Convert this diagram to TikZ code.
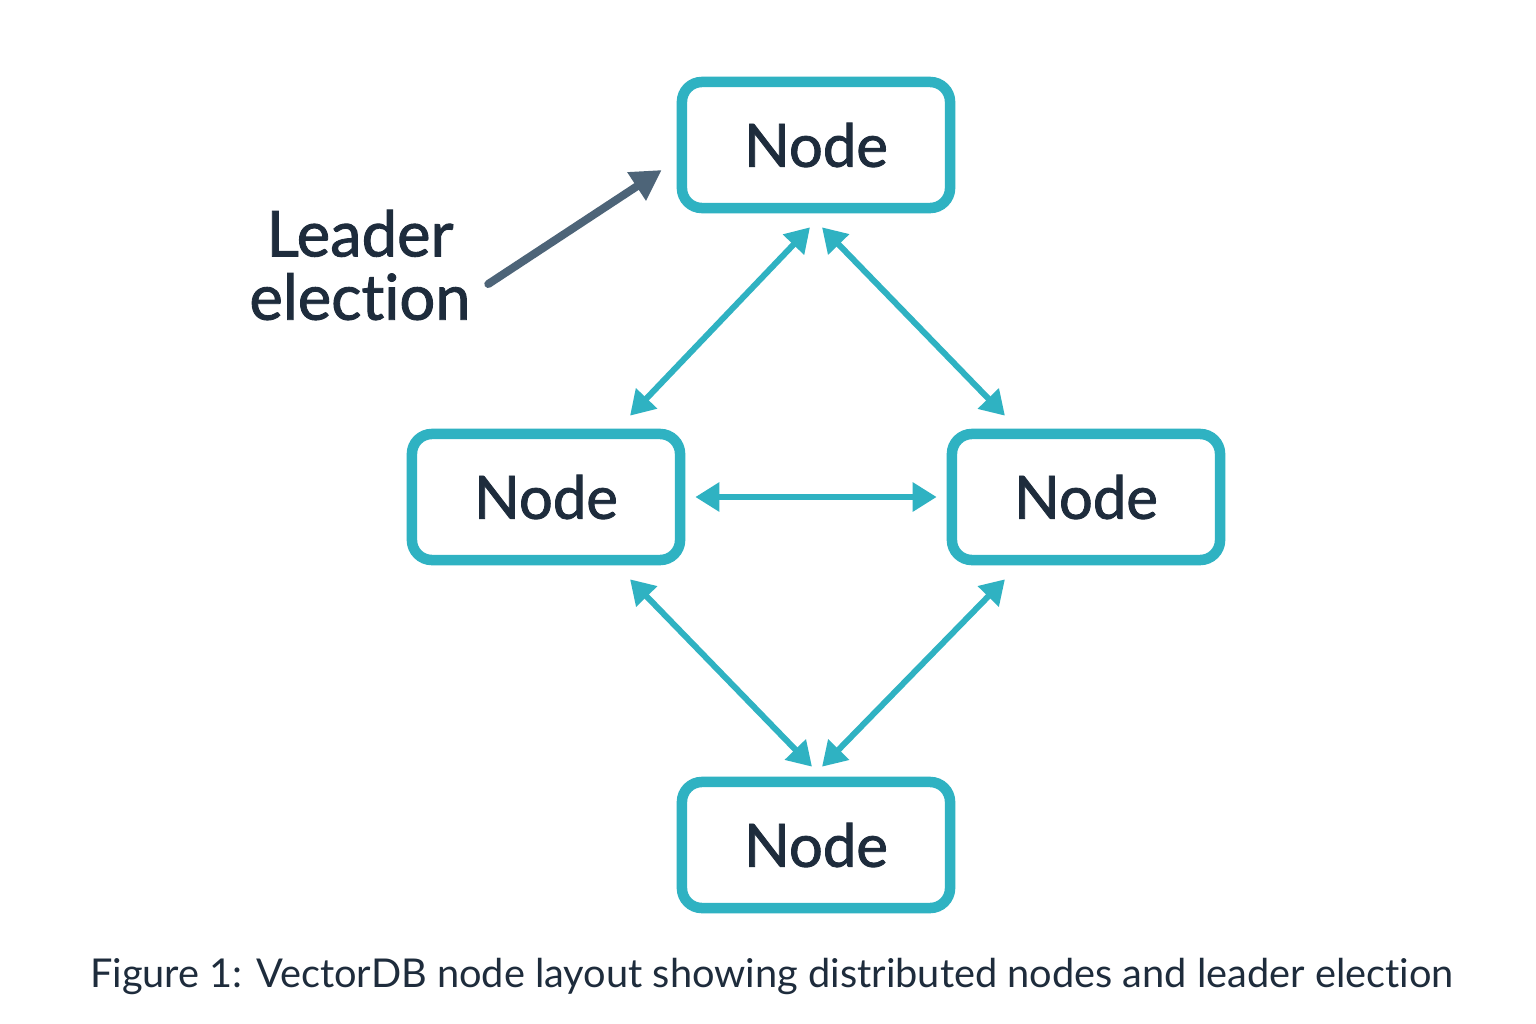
\documentclass[tikz,border=0pt]{standalone}
\usepackage{fontspec}
\setmainfont{Lato}[Ligatures=NoCommon]
\newfontfamily\medfont{Lato}[Ligatures=NoCommon, FakeBold=1.4]
\definecolor{nodeteal}{RGB}{47, 178, 194}
\definecolor{inkdark}{RGB}{30, 44, 60}
\definecolor{slate}{RGB}{77, 100, 120}
\usetikzlibrary{arrows.meta, positioning}

\tikzset{
  nodebox/.style={draw=nodeteal, line width=0.105cm, rounded corners=0.2cm, fill=white,
    minimum width=2.68cm, minimum height=1.26cm, inner sep=0pt,
    font=\fontsize{17}{20}\medfont, text=inkdark},
  link/.style={draw=nodeteal, line width=0.06cm, {Triangle[length=0.24cm, width=0.28cm]}-{Triangle[length=0.24cm, width=0.28cm]}},
}

\begin{document}
\begin{tikzpicture}[x=0.01cm, y=-0.01cm]
  \useasboundingbox[fill=white] (0, 0) rectangle (1536, 1024);

  % Nodes
  \node[nodebox] (top) at (816, 145) {Node};
  \node[nodebox] (left) at (546, 497) {Node};
  \node[nodebox] (right) at (1086, 497) {Node};
  \node[nodebox] (bottom) at (816, 845) {Node};

  % Links between nodes
  \draw[link] ([xshift=-0.06cm, yshift=-0.14cm]top.south) -- ([xshift=0.84cm, yshift=0.13cm]left.north);
  \draw[link] ([xshift=0.06cm, yshift=-0.14cm]top.south) -- ([xshift=-0.81cm, yshift=0.13cm]right.north);
  \draw[link, shorten <=0.1cm, shorten >=0.1cm] (left.east) -- (right.west);
  \draw[link] ([xshift=0.84cm, yshift=-0.14cm]left.south) -- ([xshift=-0.04cm, yshift=0.1cm]bottom.north);
  \draw[link] ([xshift=-0.81cm, yshift=-0.14cm]right.south) -- ([xshift=0.06cm, yshift=0.1cm]bottom.north);

  % Leader election
  \node[font=\fontsize{18}{18}\medfont, text=inkdark, align=center, inner sep=0pt] (lead) at (360, 265) {Leader\\election};
  \draw[slate, line width=0.08cm, line cap=round, -{Triangle[length=0.3cm, width=0.32cm]}]
    ([xshift=0.17cm, yshift=-0.19cm]lead.east) -- ([xshift=-0.15cm, yshift=-0.25cm]top.west);

  % Caption
  \node[font=\fontsize{11.3}{14}\selectfont, text=inkdark, anchor=base] (caption) at (772, 987) {Figure 1: VectorDB node layout showing distributed nodes and leader election};
\end{tikzpicture}
\end{document}
